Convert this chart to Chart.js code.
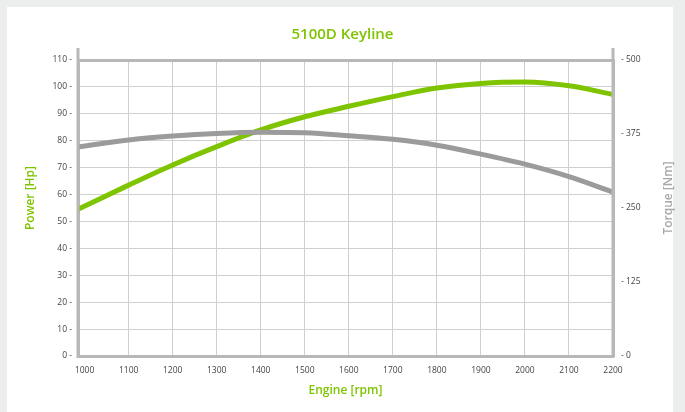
<!DOCTYPE html>
<html>
<head>
<meta charset="utf-8">
<script src="https://cdn.jsdelivr.net/npm/chart.js@4.4.1/dist/chart.umd.min.js"></script>
<style>
  html, body { margin: 0; padding: 0; background: #eceeed; width: 685px; height: 412px; overflow: hidden; }
  #panel { position: absolute; left: 7px; top: 7px; width: 666px; height: 405px; background: #ffffff; }
  #wrap { position: absolute; left: 0; top: 0; width: 685px; height: 412px; }
</style>
</head>
<body>
<div id="panel"></div>
<div id="wrap"><canvas id="c" width="685" height="412"></canvas></div>
<script>
// ---- data ----
const rpm = [985, 1100, 1200, 1300, 1400, 1500, 1600, 1700, 1800, 1900, 2000, 2100, 2200];
const powerHp = [54.5, 63.5, 71, 77.8, 84, 88.9, 92.8, 96.4, 99.6, 101.3, 101.8, 100.4, 97.2];
const torqueNm = [353, 365, 371.5, 376, 378, 377, 372, 366, 356, 341, 324, 303, 277];
const rpmTicks = [1000, 1100, 1200, 1300, 1400, 1500, 1600, 1700, 1800, 1900, 2000, 2100, 2200];
const powerTicks = [0, 10, 20, 30, 40, 50, 60, 70, 80, 90, 100, 110];
const torqueTicks = [0, 125, 250, 375, 500];
const titleText = '5100D Keyline';
const xTitle = 'Engine [rpm]';
const yTitle = 'Power [Hp]';
const y2Title = 'Torque [Nm]';

const GREEN = '#7fc400';
const GRAY = '#9b9b9b';
const AXIS = '#b8b8b8';
const GRID = '#cfcfcf';
const FONT = "'Open Sans', 'Noto Sans', sans-serif";

const extras = {
  id: 'extras',
  afterDraw(chart) {
    const ctx = chart.ctx;
    const a = chart.chartArea;
    ctx.save();
    // extended axis lines above plot
    ctx.strokeStyle = AXIS;
    ctx.lineWidth = 3;
    ctx.beginPath();
    ctx.moveTo(a.left, a.top - 12); ctx.lineTo(a.left, a.bottom + 2);
    ctx.moveTo(a.right, a.top - 12); ctx.lineTo(a.right, a.bottom + 2);
    ctx.stroke();
    // vertical axis titles
    const cy = (a.top + a.bottom) / 2 - 10;
    ctx.font = "600 12px " + FONT;
    ctx.textAlign = 'center';
    ctx.textBaseline = 'middle';
    ctx.fillStyle = GREEN;
    ctx.translate(31, cy);
    ctx.rotate(-Math.PI / 2);
    ctx.fillText(yTitle, 0, 0);
    ctx.restore();
    ctx.save();
    ctx.font = "600 12px " + FONT;
    ctx.textAlign = 'center';
    ctx.textBaseline = 'middle';
    ctx.fillStyle = '#a9a9a9';
    ctx.translate(a.right + 56, cy);
    ctx.rotate(-Math.PI / 2);
    ctx.fillText(y2Title, 0, 0);
    ctx.restore();
  }
};

new Chart(document.getElementById('c'), {
  type: 'line',
  data: {
    datasets: [
      {
        label: 'Torque',
        data: rpm.map((r, i) => ({ x: r, y: torqueNm[i] })),
        yAxisID: 'y2',
        borderColor: GRAY,
        borderWidth: 5,
        pointRadius: 0,
        fill: false,
        cubicInterpolationMode: 'monotone'
      },
      {
        label: 'Power',
        data: rpm.map((r, i) => ({ x: r, y: powerHp[i] })),
        yAxisID: 'y',
        borderColor: GREEN,
        borderWidth: 5,
        pointRadius: 0,
        fill: false,
        cubicInterpolationMode: 'monotone'
      }
    ]
  },
  options: {
    responsive: false,
    animation: false,
    devicePixelRatio: 1,
    layout: { padding: { left: 0, right: 0, top: 0, bottom: 0 } },
    plugins: {
      legend: { display: false },
      tooltip: { enabled: false },
      title: {
        display: true,
        text: titleText,
        color: GREEN,
        font: { family: FONT, size: 15, weight: '600' },
        padding: { top: 26, bottom: 16 }
      }
    },
    scales: {
      x: {
        type: 'linear',
        min: 985,
        max: 2200,
        afterBuildTicks: s => { s.ticks = rpmTicks.map(v => ({ value: v })); },
        afterFit: s => { s.height = 56; },
        grid: {
          drawTicks: false,
          color: c => (c.tick && c.tick.value === 1000) ? 'rgba(0,0,0,0)' : GRID,
          lineWidth: 1
        },
        border: { display: true, color: AXIS, width: 3 },
        ticks: {
          color: '#444',
          font: { family: FONT, size: 8.5 },
          padding: 9,
          maxRotation: 0,
          autoSkip: false,
          callback: v => String(v)
        },
        title: {
          display: true,
          text: xTitle,
          color: GREEN,
          font: { family: FONT, size: 12, weight: '600' },
          padding: { top: 0, bottom: 14 }
        }
      },
      y: {
        position: 'left',
        min: 0,
        max: 110,
        afterBuildTicks: s => { s.ticks = powerTicks.map(v => ({ value: v })); },
        afterFit: s => { s.width = 78; },
        grid: {
          drawTicks: false,
          color: c => (c.tick && (c.tick.value === 0 || c.tick.value === 110)) ? AXIS : GRID,
          lineWidth: c => (c.tick && (c.tick.value === 0 || c.tick.value === 110)) ? 3 : 1
        },
        border: { display: true, color: AXIS, width: 3 },
        ticks: {
          color: '#444',
          font: { family: FONT, size: 8.5 },
          padding: 6,
          autoSkip: false,
          callback: v => v + ' -'
        }
      },
      y2: {
        position: 'right',
        min: 0,
        max: 500,
        afterBuildTicks: s => { s.ticks = torqueTicks.map(v => ({ value: v })); },
        afterFit: s => { s.width = 72; },
        grid: { drawOnChartArea: false, drawTicks: false },
        border: { display: true, color: AXIS, width: 3 },
        ticks: {
          color: '#444',
          font: { family: FONT, size: 8.5 },
          padding: 8,
          autoSkip: false,
          callback: v => '- ' + v
        }
      }
    }
  },
  plugins: [extras]
});
</script>
</body>
</html>
